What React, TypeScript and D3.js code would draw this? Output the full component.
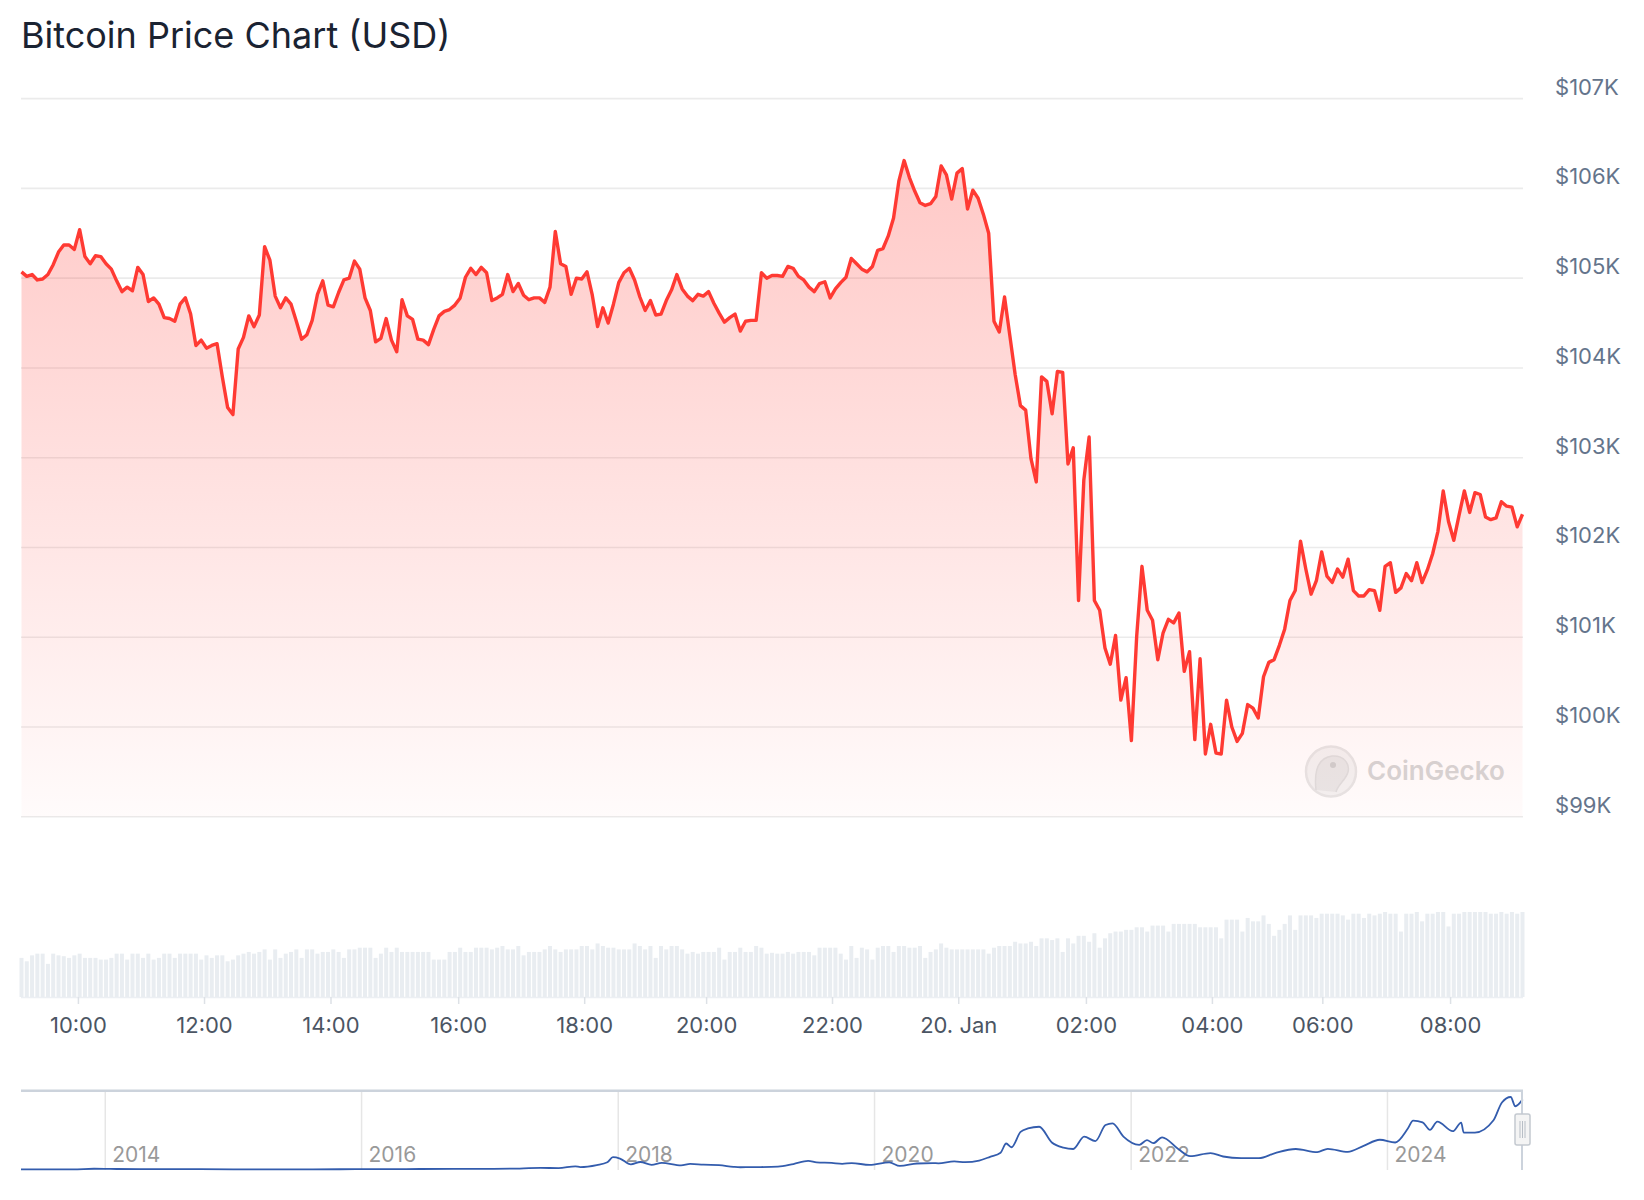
import * as d3 from "d3";

// BTC price, thousand USD, one point per 5 min slot (19 Jan 09:05 -> 20 Jan 08:55)
const prices = [
  105.07, 105.02, 105.04, 104.98, 104.99, 105.04, 105.15, 105.29, 105.37, 105.37,
  105.32, 105.54, 105.24, 105.16, 105.25, 105.24, 105.16, 105.10, 104.97, 104.85,
  104.90, 104.86, 105.12, 105.04, 104.74, 104.78, 104.71, 104.56, 104.55, 104.52,
  104.71, 104.78, 104.60, 104.25, 104.31, 104.22, 104.25, 104.27, 103.90, 103.56,
  103.48, 104.21, 104.34, 104.58, 104.46, 104.59, 105.35, 105.20, 104.80, 104.67,
  104.78, 104.71, 104.52, 104.32, 104.37, 104.53, 104.82, 104.97, 104.70, 104.68,
  104.84, 104.98, 105.00, 105.19, 105.10, 104.78, 104.64, 104.29, 104.33, 104.55,
  104.31, 104.18, 104.76,
  104.58, 104.54, 104.32, 104.31, 104.26, 104.43, 104.58, 104.63, 104.65, 104.70,
  104.78, 105.01, 105.11, 105.04, 105.12, 105.06, 104.75, 104.78, 104.82, 105.04,
  104.85, 104.94, 104.81, 104.76, 104.78, 104.78, 104.73, 104.90, 105.52, 105.16,
  105.13, 104.82, 105.00, 104.99, 105.07, 104.81, 104.46, 104.67, 104.50, 104.71,
  104.95, 105.06, 105.11, 104.98, 104.79, 104.64, 104.75, 104.59, 104.60, 104.75,
  104.87, 105.04, 104.88, 104.80, 104.75, 104.82, 104.80, 104.85, 104.72, 104.61,
  104.51, 104.56, 104.60, 104.41, 104.52, 104.53, 104.53, 105.06, 105.00, 105.03,
  105.03, 105.02,
  105.13, 105.11, 105.02, 104.98, 104.90, 104.85, 104.94, 104.96, 104.78, 104.88,
  104.95, 105.01, 105.22, 105.16, 105.10, 105.07, 105.13, 105.31, 105.33, 105.47,
  105.67, 106.08, 106.31, 106.12, 105.97, 105.84, 105.81, 105.83, 105.91, 106.25,
  106.15, 105.88, 106.17, 106.22, 105.77, 105.98, 105.89, 105.71, 105.50, 104.52,
  104.40, 104.79, 104.36, 103.93, 103.58, 103.53, 102.99, 102.73, 103.90, 103.85,
  103.49, 103.96, 103.95, 102.93, 103.11, 101.41, 102.75, 103.23, 101.41, 101.30,
  100.88, 100.70, 101.02, 100.30, 100.55, 99.85, 101.01, 101.79,
  101.30, 101.19, 100.75, 101.05, 101.20, 101.16, 101.27, 100.62, 100.84, 99.86,
  100.76, 99.70, 100.03, 99.71, 99.70, 100.30, 100.00, 99.84, 99.93, 100.25,
  100.21, 100.10, 100.56, 100.72, 100.75, 100.91, 101.09, 101.41, 101.52, 102.07,
  101.76, 101.48, 101.63, 101.95, 101.68, 101.61, 101.76, 101.67, 101.87, 101.52,
  101.46, 101.46, 101.53, 101.52, 101.30, 101.79, 101.83, 101.50, 101.55, 101.71,
  101.63, 101.83, 101.61, 101.75, 101.93, 102.18, 102.63, 102.29, 102.08, 102.36,
  102.63, 102.39, 102.61, 102.59, 102.34, 102.31, 102.33, 102.51, 102.46, 102.45,
  102.23, 102.37,
];

// traded volume per slot, relative units (no axis shown)
const volumes = [
  46, 42, 49, 51, 51, 39, 51, 49, 48, 46, 49, 51, 46, 46, 46, 44, 44, 46, 51, 51,
  44, 51, 51, 46, 51, 44, 46, 51, 51, 46, 51, 51, 51, 51, 44, 49, 46, 49, 49, 42,
  44, 49, 51, 53, 51, 53, 56, 44, 56, 46, 51, 53, 56, 46, 56, 56, 51, 53, 53, 56,
  53, 46, 56, 56, 58, 58, 58, 46, 51, 58, 53, 58, 53, 53, 53, 53, 53, 53, 44, 44,
  44, 53, 53, 58, 53, 53, 58, 58, 58, 56, 58, 60, 56, 56, 60, 49, 53, 53, 53, 56,
  60, 56, 53, 56, 56, 56, 60, 60, 56, 63, 60, 58, 58, 56, 56, 56, 63, 60, 56, 60,
  46, 60, 56, 60, 60, 56, 51, 53, 51, 53, 53, 53, 58, 44, 53, 53, 58, 53, 53, 60,
  58, 51, 52, 51, 51, 53, 51, 53, 53, 53, 49, 58, 58, 58, 58, 51, 44, 60, 46, 58,
  56, 44, 58, 60, 60, 53, 60, 60, 58, 58, 60, 46, 53, 56, 63, 58, 56, 56, 56, 56,
  56, 56, 56, 51, 58, 60, 60, 60, 65, 63, 63, 65, 60, 69, 69, 67, 69, 53, 69, 63,
  72, 72, 65, 75, 58, 69, 75, 77, 77, 79, 79, 82, 82, 77, 84, 84, 84, 77, 86, 86,
  86, 86, 86, 82, 82, 82, 82, 69, 91, 91, 91, 77, 93, 89, 89, 96, 86, 72, 79, 86,
  96, 79, 96, 96, 96, 93, 98, 98, 98, 98, 96, 91, 98, 98, 93, 98, 96, 98, 100, 98,
  98, 77, 98, 98, 100, 89, 98, 98, 100, 100, 83, 98, 98, 100, 100, 100, 100, 100, 98, 98,
  100, 98, 100, 98, 100,
];

const priceTicks = [99, 100, 101, 102, 103, 104, 105, 106, 107];

// ordinal axis: tick labels and where they fall in slot units
const timeLabels = ["10:00", "12:00", "14:00", "16:00", "18:00", "20:00", "22:00", "20. Jan", "02:00", "04:00", "06:00", "08:00"];
const timeSlots = [10.77, 34.63, 58.56, 82.72, 106.56, 129.63, 153.45, 177.33, 201.49, 225.33, 246.22, 270.39];

// navigator: whole history, thousand USD
const navDates = [
  "2013-05-06", "2013-10-01", "2013-11-30", "2014-01-15", "2014-04-10", "2014-06-01", "2014-12-31",
  "2015-08-15", "2015-12-15", "2016-06-15", "2016-12-31", "2017-03-01", "2017-05-25", "2017-07-15",
  "2017-09-01", "2017-09-15", "2017-11-01", "2017-12-01", "2017-12-17", "2018-01-06", "2018-02-06",
  "2018-03-05", "2018-04-06", "2018-05-05", "2018-06-29", "2018-07-25", "2018-09-01", "2018-10-15",
  "2018-11-25", "2018-12-15", "2019-02-01", "2019-04-01", "2019-05-15", "2019-06-26", "2019-07-20",
  "2019-09-01", "2019-10-01", "2019-10-28", "2019-12-18", "2020-02-12", "2020-03-13", "2020-05-01",
  "2020-06-15", "2020-07-01", "2020-08-15", "2020-09-15", "2020-10-25", "2020-11-25", "2020-12-25",
  "2021-01-10", "2021-01-25", "2021-02-20", "2021-03-13", "2021-04-14", "2021-05-20", "2021-06-22",
  "2021-07-20", "2021-08-20", "2021-09-21", "2021-10-20", "2021-11-09", "2021-12-10", "2022-01-24",
  "2022-02-15", "2022-03-05", "2022-03-30", "2022-05-15", "2022-06-18", "2022-08-15", "2022-09-20",
  "2022-11-10", "2022-12-31", "2023-02-15", "2023-04-15", "2023-06-15", "2023-07-15", "2023-09-10",
  "2023-10-25", "2023-12-10", "2024-01-23", "2024-02-28", "2024-03-14", "2024-04-10", "2024-05-01",
  "2024-05-22", "2024-07-05", "2024-07-29", "2024-08-05", "2024-09-06", "2024-10-29", "2024-11-22",
  "2024-12-17", "2024-12-30", "2025-01-20",
];
const navPrices = [
  0.12, 0.13, 1.1, 0.85, 0.45, 0.64, 0.32,
  0.23, 0.45, 0.7, 0.96, 1.2, 2.4, 2.0,
  4.7, 3.6, 6.5, 10.5, 18.0, 16.0, 7.5,
  11.0, 6.8, 9.6, 5.9, 8.2, 7.0, 6.4,
  3.9, 3.3, 3.5, 4.1, 8.0, 12.5, 10.5,
  9.6, 8.3, 9.4, 6.7, 10.3, 5.2, 8.8,
  9.4, 9.1, 11.8, 10.7, 13.1, 18.5, 24.5,
  38.0, 32.5, 55.0, 60.0, 62.5, 39.5, 32.0,
  30.0, 48.0, 41.5, 65.0, 67.5, 48.0, 36.0,
  43.0, 38.5, 47.0, 30.0, 19.5, 24.0, 19.0,
  16.5, 16.5, 24.0, 30.0, 25.5, 30.3, 25.8,
  34.5, 43.5, 39.5, 60.0, 71.5, 69.0, 58.0,
  70.0, 56.0, 68.5, 54.0, 54.0, 72.0, 98.0,
  106.0, 92.5, 102.5,
];
const navYears = [2014, 2016, 2018, 2020, 2022, 2024];

const FONT = "Inter, 'Noto Sans', sans-serif";
const RED = "#ff3a33";

export default function App() {
  const W = 1644, H = 1200;
  const plotL = 21, plotR = 1523;

  const x = d3.scaleLinear().domain([0, prices.length - 1]).range([21.5, 1522.5]);
  const y = d3.scaleLinear().domain([99, 107]).range([816.8, 98.6]);
  const yVol = d3.scaleLinear().domain([0, 100]).range([997, 912]);

  const line = d3.line<number>().x((_, i) => x(i)).y(d => y(d));
  const area = d3.area<number>().x((_, i) => x(i)).y0(y(99)).y1(d => y(d));

  const navData = navDates.map((d, i) => ({ t: new Date(d + "T00:00:00Z"), v: navPrices[i] }));
  const xNav = d3.scaleUtc()
    .domain([new Date("2013-05-06T00:00:00Z"), new Date("2025-01-21T00:00:00Z")])
    .range([plotL, plotR]);
  const yNav = d3.scaleLinear().domain([0, 106]).range([1169.5, 1097]);
  const navLine = d3.line<{ t: Date; v: number }>()
    .x(d => xNav(d.t)).y(d => yNav(d.v)).curve(d3.curveMonotoneX);

  const navTop = 1090.7, navBottom = 1170;

  return (
    <svg width={W} height={H} style={{ position: "absolute", left: 0, top: 0, background: "#fff" }}>
      <defs>
        <linearGradient id="price-fill" gradientUnits="userSpaceOnUse" x1="0" y1={y(107)} x2="0" y2={y(99)}>
          <stop offset="0%" stopColor={RED} stopOpacity={0.3} />
          <stop offset="100%" stopColor={RED} stopOpacity={0.02} />
        </linearGradient>
      </defs>

      <text x={21} y={48} fontFamily={FONT} fontSize={36} fill="#1a2332">Bitcoin Price Chart (USD)</text>

      {/* grid + price labels */}
      {priceTicks.map(t => (
        <g key={t}>
          <line x1={plotL} x2={plotR} y1={y(t)} y2={y(t)} stroke="#ebebeb" strokeWidth={1.6} />
          <text x={1555} y={y(t) - 4} fontFamily={FONT} fontSize={22} fill="#64748b">${t}K</text>
        </g>
      ))}

      {/* watermark */}
      <g>
        <circle cx={1331} cy={771.5} r={25} fill="#f3f3f3" stroke="#e6e6e6" strokeWidth={2.5} />
        <path d="M1316,790 C1314,772 1318,758 1332,756 C1344,755 1350,764 1348,772 C1346,780 1338,784 1336,792" fill="#e8e8e8" stroke="#dedede" strokeWidth={1.5} />
        <circle cx={1333} cy={765} r={3} fill="#cfcfcf" />
        <text x={1367} y={780} fontFamily={FONT} fontSize={26} fontWeight={600} fill="#d6d6d6">CoinGecko</text>
      </g>

      <path d={area(prices) ?? ""} fill="url(#price-fill)" />
      <path d={line(prices) ?? ""} fill="none" stroke={RED} strokeWidth={3.4} strokeLinejoin="round" />

      {/* volume */}
      {volumes.map((v, i) => (
        <rect key={i} x={x(i) - 2} y={yVol(v)} width={4} height={yVol(0) - yVol(v)} fill="#e9edf1" />
      ))}
      <line x1={plotL} x2={plotR} y1={997.5} y2={997.5} stroke="#eceff3" strokeWidth={1.5} />

      {/* time axis */}
      {timeLabels.map((lab, i) => (
        <g key={lab}>
          <line x1={x(timeSlots[i])} x2={x(timeSlots[i])} y1={997} y2={1004} stroke="#dde1e6" strokeWidth={1.5} />
          <text x={x(timeSlots[i])} y={1033} textAnchor="middle" fontFamily={FONT} fontSize={22} fill="#4b5563">{lab}</text>
        </g>
      ))}

      {/* navigator */}
      {navYears.map(yr => {
        const xx = xNav(new Date(Date.UTC(yr, 0, 1)));
        return (
          <g key={yr}>
            <line x1={xx} x2={xx} y1={navTop} y2={navBottom} stroke="#e6e6e6" strokeWidth={1.5} />
            <text x={xx + 7} y={1162} fontFamily={FONT} fontSize={21} fill="#999999">{yr}</text>
          </g>
        );
      })}
      <path d={navLine(navData) ?? ""} fill="none" stroke="#335cad" strokeWidth={1.8} />
      <line x1={plotL} x2={plotR} y1={navTop} y2={navTop} stroke="#ccd3dc" strokeWidth={2.5} />
      <line x1={1522} x2={1522} y1={navTop} y2={navBottom} stroke="#ccd3dc" strokeWidth={2} />
      <rect x={1515} y={1114} width={15} height={31} rx={2} fill="#f4f4f4" stroke="#c4c9d0" strokeWidth={1.5} />
      {[1520, 1522.5, 1525].map(lx => (
        <line key={lx} x1={lx} x2={lx} y1={1121} y2={1138} stroke="#b8bec6" strokeWidth={1} />
      ))}
    </svg>
  );
}
